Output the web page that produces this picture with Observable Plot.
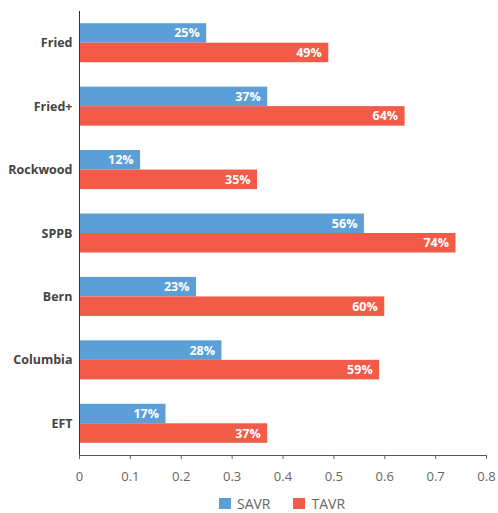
<!DOCTYPE html>
<html>
<head>
<meta charset="utf-8">
<script src="https://cdn.jsdelivr.net/npm/d3@7"></script>
<script src="https://cdn.jsdelivr.net/npm/@observablehq/plot@0.6"></script>
<style>
  body { margin: 0; background: #fff; font-family: "Open Sans", sans-serif; }
  #legend { display: flex; justify-content: center; align-items: center; gap: 23px; height: 24px; padding-top: 6px; padding-left: 66px; font-size: 14px; color: #666; }
  .item { display: flex; align-items: center; gap: 6px; }
  .sw { width: 12px; height: 11px; display: inline-block; }
</style>
</head>
<body>
<div id="chart"></div>
<div id="legend"></div>
<script>
const categories = ["Fried", "Fried+", "Rockwood", "SPPB", "Bern", "Columbia", "EFT"];
const series = ["SAVR", "TAVR"];
const savr = [0.25, 0.37, 0.12, 0.56, 0.23, 0.28, 0.17];
const tavr = [0.49, 0.64, 0.35, 0.74, 0.60, 0.59, 0.37];
const xTicks = [0, 0.1, 0.2, 0.3, 0.4, 0.5, 0.6, 0.7, 0.8];
const colors = ["#5b9fd6", "#f15b48"];

const data = [];
categories.forEach((c, i) => {
  data.push({cat: c, s: "SAVR", v: savr[i]});
  data.push({cat: c, s: "TAVR", v: tavr[i]});
});

const plot = Plot.plot({
  width: 498,
  height: 485,
  marginLeft: 79,
  marginRight: 12,
  marginTop: 11,
  marginBottom: 30,
  style: {fontFamily: "'Open Sans', sans-serif", fontSize: "13px"},
  x: {domain: [0, 0.8], ticks: xTicks, tickFormat: d => d === 0 ? "0" : String(d)},
  fy: {domain: categories, padding: 0, round: false, label: null},
  y: {domain: series, paddingInner: 0, paddingOuter: 0.625, round: false, axis: null},
  color: {domain: series, range: colors},
  marks: [
    Plot.barX(data, {fy: "cat", y: "s", x: "v", fill: "s", insetTop: 0, insetBottom: 0}),
    Plot.text(data, {fy: "cat", y: "s", x: "v", text: d => Math.round(d.v * 100) + "%", textAnchor: "end", dx: -7, fill: "white", fontWeight: "bold", fontSize: 12.5}),
    Plot.frame({anchor: "left", stroke: "#333"}),
    Plot.frame({anchor: "bottom", stroke: "#555", facetAnchor: "bottom"}),
    Plot.axisX({ticks: xTicks, tickFormat: d => d === 0 ? "0" : String(d), tickSize: 4, tickPadding: 12, label: null, color: "#666", fontSize: 13}),
    Plot.axisFy({anchor: "left", tickSize: 0, tickPadding: 7, label: null, fontWeight: "bold", fontSize: 12.5, color: "#444"})
  ]
});
document.getElementById("chart").appendChild(plot);

const legend = document.getElementById("legend");
series.forEach((s, i) => {
  const it = document.createElement("span");
  it.className = "item";
  it.innerHTML = `<span class="sw" style="background:${colors[i]}"></span><span>${s}</span>`;
  legend.appendChild(it);
});
</script>
</body>
</html>
